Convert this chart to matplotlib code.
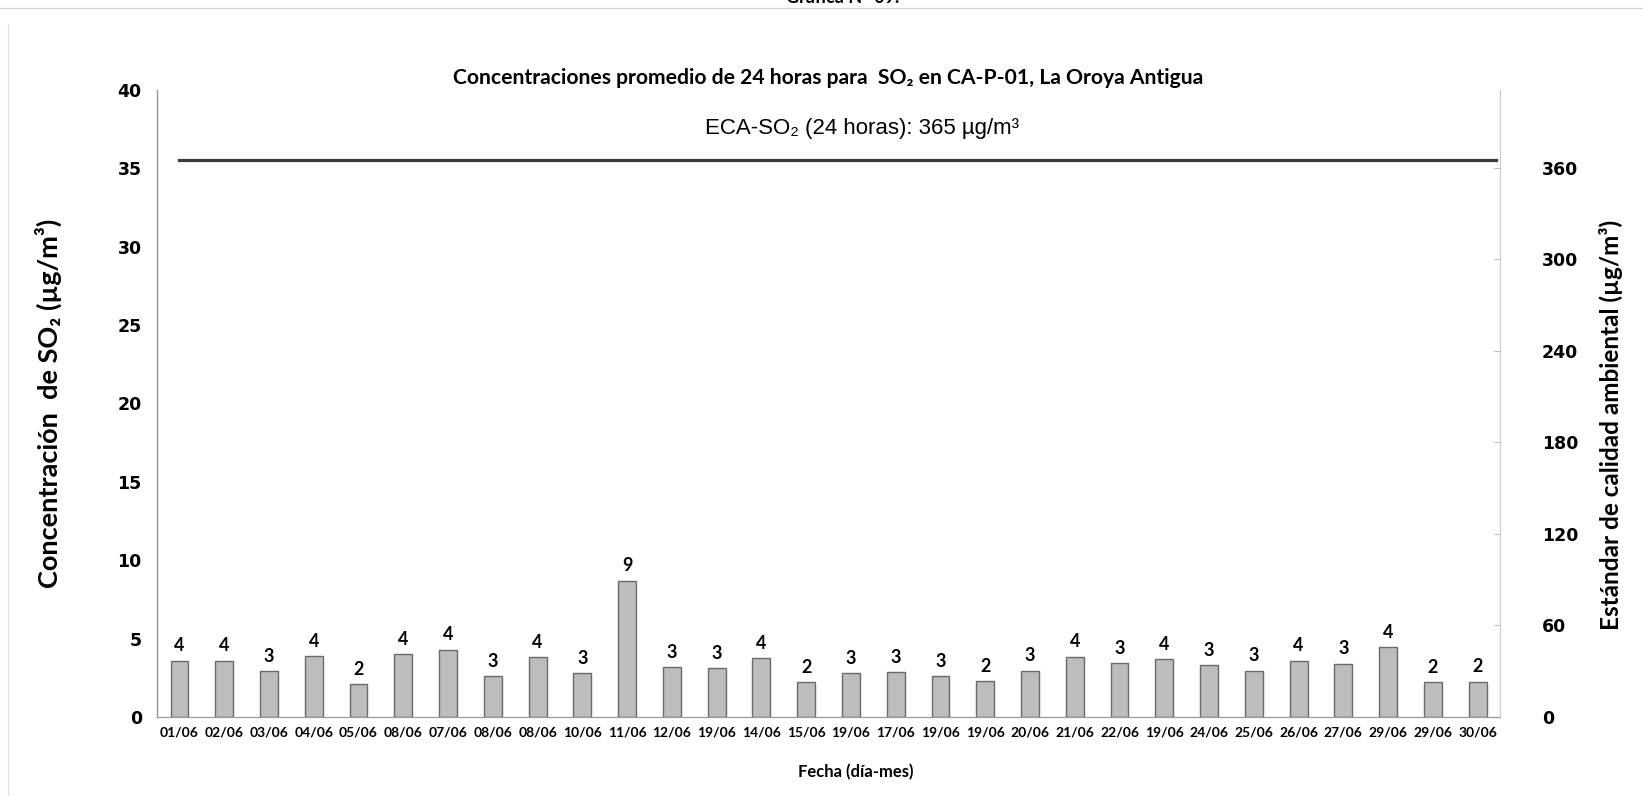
import numpy as np
import matplotlib.pyplot as plt

# fuentes: Lato parecida a Calibri, DejaVu para subíndices
plt.rcParams['font.family'] = ['Lato', 'DejaVu Sans']

# datos
fechas = ['01/06', '02/06', '03/06', '04/06', '05/06', '08/06', '07/06', '08/06', '08/06', '10/06',
          '11/06', '12/06', '19/06', '14/06', '15/06', '19/06', '17/06', '19/06', '19/06', '20/06',
          '21/06', '22/06', '19/06', '24/06', '25/06', '26/06', '27/06', '29/06', '29/06', '30/06']
so2 = [3.6, 3.6, 2.9, 3.9, 2.1, 4.0, 4.3, 2.6, 3.8, 2.8,
       8.7, 3.2, 3.1, 3.75, 2.2, 2.8, 2.85, 2.6, 2.3, 2.95,
       3.85, 3.45, 3.7, 3.3, 2.95, 3.6, 3.4, 4.45, 2.2, 2.25]
eca = 365  # estándar 24 h (µg/m3)
ticks_izq = [0, 5, 10, 15, 20, 25, 30, 35, 40]
ticks_der = [0, 60, 120, 180, 240, 300, 360]

fig = plt.figure(figsize=(16.43, 7.96), dpi=100)
ax = fig.add_axes([0.0956, 0.0993, 0.8174, 0.7877])
ax2 = ax.twinx()

x = np.arange(len(fechas))
ax.bar(x, so2, width=0.4, color='#bdbdbd', edgecolor='#6a6a6a', linewidth=1.0, zorder=2)
for xi, v in zip(x, so2):
    ax.text(xi, v + 0.4, f'{v:.0f}', ha='center', va='bottom', fontsize=13, fontweight='bold')

ax.set_xlim(-0.5, len(fechas) - 0.5)
ax.set_ylim(0, 40)
ax.set_yticks(ticks_izq)
ax.set_xticks(x)
ax.set_xticklabels(fechas, fontsize=10, fontweight='bold')
ax.tick_params(axis='y', length=0, pad=11, labelsize=12.5)
ax.tick_params(axis='x', length=0, pad=7)
for t in ax.get_yticklabels():
    t.set_fontweight('bold')
    t.set_family(['DejaVu Sans'])

# línea del ECA en el eje secundario
ax2.plot([x[0], x[-1] + 0.4], [eca, eca], color='#3a3a3a', linewidth=2.3, zorder=3)
ax2.set_ylim(0, 411)
ax2.set_yticks(ticks_der)
ax2.tick_params(axis='y', direction='in', length=4, color='#bbbbbb', pad=30, labelsize=12.5)
for t in ax2.get_yticklabels():
    t.set_fontweight('bold')
    t.set_family(['DejaVu Sans'])
ax2.text(np.mean(x) + 0.75, eca + 14, 'ECA-SO₂ (24 horas): 365 µg/m³', ha='center', va='bottom',
         fontsize=16, family=['Liberation Sans', 'DejaVu Sans'])

for a in (ax, ax2):
    a.spines['top'].set_visible(False)
    a.spines['left'].set_color('#999999')
    a.spines['right'].set_color('#cccccc')
    a.spines['bottom'].set_color('#999999')
    a.spines['bottom'].set_linestyle((0, (2, 1)))
    a.spines['left'].set_linewidth(0.9)
    a.spines['right'].set_linewidth(0.8)

ax.set_ylabel('Concentración  de SO₂ (µg/m³)', fontsize=19.5, fontweight='bold', labelpad=40)
ax2.set_ylabel('Estándar de calidad ambiental (µg/m³)', fontsize=17.5, fontweight='bold', labelpad=15)
ax2.yaxis.label.set_y(0.465)
ax.set_xlabel('Fecha (día-mes)', fontsize=12, fontweight='bold', labelpad=18)
ax.xaxis.label.set_x(0.52)
ax.set_title('Concentraciones promedio de 24 horas para  SO₂ en CA-P-01, La Oroya Antigua',
             fontsize=15.2, fontweight='bold', pad=4)

# restos del escaneo: encabezado cortado y bordes
fig.text(0.513, 1.003, 'Gráfica N° 09.', ha='center', va='center', fontsize=13, fontweight='bold')
fig.add_artist(plt.Line2D([0, 1], [0.99, 0.99], color='#d0d0d0', linewidth=0.8))
fig.add_artist(plt.Line2D([0.005, 0.005], [0.0, 0.97], color='#e0e0e0', linewidth=0.8))

plt.savefig('out.png', dpi=100)
